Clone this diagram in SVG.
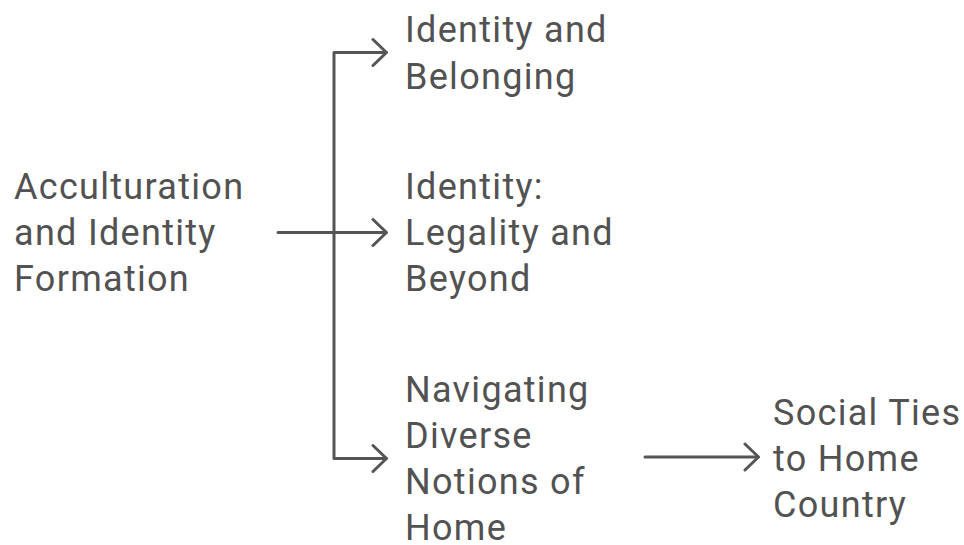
<svg xmlns="http://www.w3.org/2000/svg" width="964" height="545" viewBox="0 0 964 545">
<style>
text{font-family:Roboto,"Liberation Sans",sans-serif;font-size:36px;letter-spacing:1.3px;fill:#525252}
.c{fill:none;stroke:#555;stroke-width:3;stroke-linecap:round;stroke-linejoin:round}
</style>
<rect width="964" height="545" fill="#fff"/>
<g id="connectors">
<path class="c" d="M278 232.5H386M334 52.5V458.5M334 52.5H386M334 458.5H386M645 457H758"/>
<path class="c" d="M373 39.5L386.5 52.5L373 65.5M373 219.5L386.5 232.5L373 245.5M373 445.5L386.5 458.5L373 471.5M745 444L758.5 457L745 470"/>
</g>
<g id="n1"><text><tspan x="14" y="199">Acculturation</tspan><tspan x="14" y="245">and Identity</tspan><tspan x="14" y="291">Formation</tspan></text></g>
<g id="n2"><text><tspan x="405" y="42">Identity and</tspan><tspan x="405" y="88.5">Belonging</tspan></text></g>
<g id="n3"><text><tspan x="405" y="199">Identity:</tspan><tspan x="405" y="245">Legality and</tspan><tspan x="405" y="291">Beyond</tspan></text></g>
<g id="n4"><text><tspan x="405" y="402">Navigating</tspan><tspan x="405" y="448">Diverse</tspan><tspan x="405" y="494">Notions of</tspan><tspan x="405" y="540">Home</tspan></text></g>
<g id="n5"><text><tspan x="773" y="425">Social Ties</tspan><tspan x="773" y="471">to Home</tspan><tspan x="773" y="517">Country</tspan></text></g>
</svg>
